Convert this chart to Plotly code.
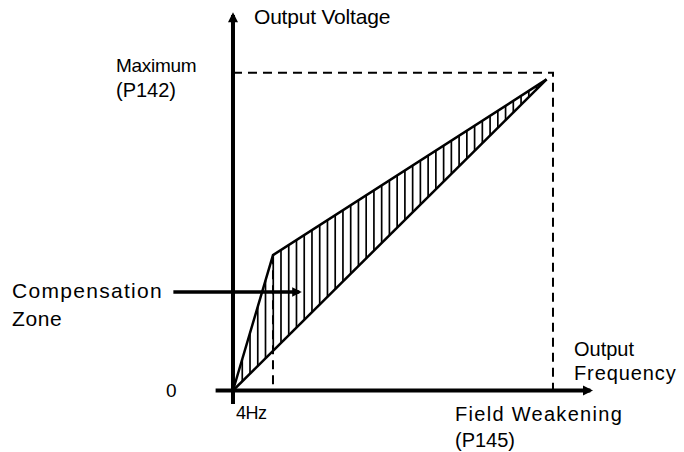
import numpy as np
import plotly.graph_objects as go

# V/f characteristic with voltage boost (compensation zone).
# Frequency in % of the field-weakening frequency (P145),
# voltage in % of the maximum output voltage (P142).
field_weak_freq = 100.0
max_volt = 100.0
knee_freq = 12.5            # the 4 Hz boost corner

boost_freq = [0.0, knee_freq, 98.0]
boost_volt = [0.0, 42.6, 97.9]
linear_freq = [0.0, 98.0]
linear_volt = [0.0, 97.9]

# canvas geometry
W, H = 684, 452
X_RANGE = [-72.81, 140.94]
Y_RANGE = [-19.35, 122.88]

FONT = "Liberation Sans, Arial, Helvetica, sans-serif"
BLACK = "#000000"

fig = go.Figure()

# vertical hatching between the linear V/f line and the boosted curve
hatch_x = np.arange(2.9, linear_freq[-1], 2.42)
lo = np.interp(hatch_x, linear_freq, linear_volt)
hi = np.interp(hatch_x, boost_freq, boost_volt)
hx, hy = [], []
for x, a, b in zip(hatch_x, lo, hi):
    hx += [x, x, None]
    hy += [a, b, None]
fig.add_trace(go.Scatter(x=hx, y=hy, mode="lines",
                         line=dict(color=BLACK, width=1.7),
                         hoverinfo="skip"))

# reference lines: max voltage, field-weakening frequency, 4 Hz corner
dash = "9px,6px"
fig.add_trace(go.Scatter(x=[0, field_weak_freq, field_weak_freq],
                         y=[max_volt, max_volt, 0], mode="lines",
                         line=dict(color=BLACK, width=2, dash=dash),
                         hoverinfo="skip"))
fig.add_trace(go.Scatter(x=[knee_freq, knee_freq],
                         y=[boost_volt[1], 0], mode="lines",
                         line=dict(color=BLACK, width=2, dash=dash),
                         hoverinfo="skip"))

# boundary curves
fig.add_trace(go.Scatter(x=boost_freq, y=boost_volt, mode="lines",
                         line=dict(color=BLACK, width=2.5),
                         hoverinfo="skip"))
fig.add_trace(go.Scatter(x=linear_freq, y=linear_volt, mode="lines",
                         line=dict(color=BLACK, width=2.5),
                         hoverinfo="skip"))


def arrow(x0, y0, x1, y1, width, size):
    fig.add_annotation(x=x1, y=y1, ax=x0, ay=y0, xref="x", yref="y",
                       axref="x", ayref="y", text="", showarrow=True,
                       arrowhead=2, arrowwidth=width, arrowsize=size,
                       arrowcolor=BLACK, standoff=0, startstandoff=0)


# axes
arrow(0, -4.7, 0, 119.0, 4, 0.5)
arrow(-5.9, 0, 112.5, 0, 4, 0.5)
# pointer to the compensation zone
arrow(-19.1, 31.0, 21.5, 31.0, 3.5, 0.55)


def label(text, px, py, size, spacing=0.0):
    if spacing:
        text = f'<span style="letter-spacing:{spacing}px">{text}</span>'
    fig.add_annotation(xref="paper", yref="paper", x=px / W, y=1 - py / H,
                       text=text, showarrow=False, xanchor="left",
                       yanchor="middle", borderpad=0, borderwidth=0,
                       font=dict(family=FONT, size=size, color=BLACK))


label("Output Voltage", 254, 16, 21, -0.2)
label("Maximum", 116, 65, 19, -0.3)
label("(P142)", 116, 90, 20)
label("Compensation", 12, 290.5, 21, 1.3)
label("Zone", 12, 318, 21, 0.6)
label("0", 166, 390.5, 19)
label("4Hz", 236, 413, 18, -0.5)
label("Output", 574, 349, 20)
label("Frequency", 574, 372.5, 20, 0.9)
label("Field Weakening", 455, 414, 20, 1.3)
label("(P145)", 455, 440, 20)

fig.update_layout(
    width=W, height=H, autosize=False,
    margin=dict(l=0, r=0, t=0, b=0, pad=0),
    paper_bgcolor="white", plot_bgcolor="white",
    showlegend=False,
    xaxis=dict(range=X_RANGE, visible=False, fixedrange=True),
    yaxis=dict(range=Y_RANGE, visible=False, fixedrange=True),
)

fig.write_html("out.html", config={"displayModeBar": False})
